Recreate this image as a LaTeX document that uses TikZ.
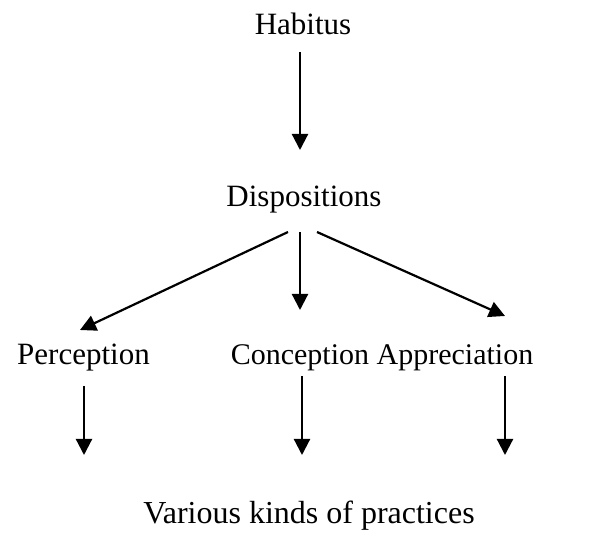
\documentclass[tikz,border=0pt]{standalone}
\usepackage{fontspec}
\setmainfont{Liberation Serif}
\usetikzlibrary{arrows.meta}
\begin{document}
\begin{tikzpicture}[x=1pt,y=1pt,
  label/.style={font=\fontsize{31}{37}\selectfont, inner sep=0pt, anchor=base},
  link/.style={line width=2.2pt, -{Triangle[length=16pt,width=16pt]}}]
\useasboundingbox (0,0) rectangle (589,535);
% labels
\node[label] (habitus) at (303,500) {Habitus};
\node[label] (disp) at (304,328) {Dispositions};
\node[label] (perc) at (83.5,170) {Perception};
\node[label, font=\fontsize{30}{36}\selectfont] (conc) at (300,170) {Conception};
\node[label, font=\fontsize{30}{36}\selectfont] (appr) at (455,170) {Appreciation};
\node[label, font=\fontsize{32}{38}\selectfont] (prac) at (309,11) {Various kinds of practices};
% arrow ends
\coordinate (h0) at (300,483);
\coordinate (h1) at (300,385);
\coordinate (dl) at (288,303);
\coordinate (dm) at (300,303);
\coordinate (dr) at (317,303);
\coordinate (pl) at (80,205);
\coordinate (pm) at (300,225);
\coordinate (pr) at (505,219);
\coordinate (a0) at (84,149);
\coordinate (b0) at (302,159);
\coordinate (c0) at (505,159);
\coordinate (a1) at (84,80);
\coordinate (b1) at (302,80);
\coordinate (c1) at (505,80);
% connectors
\draw[link] (h0) -- (h1);
\draw[link] (dl) -- (pl);
\draw[link] (dm) -- (pm);
\draw[link] (dr) -- (pr);
\draw[link] (a0) -- (a1);
\draw[link] (b0) -- (b1);
\draw[link] (c0) -- (c1);
\end{tikzpicture}
\end{document}
